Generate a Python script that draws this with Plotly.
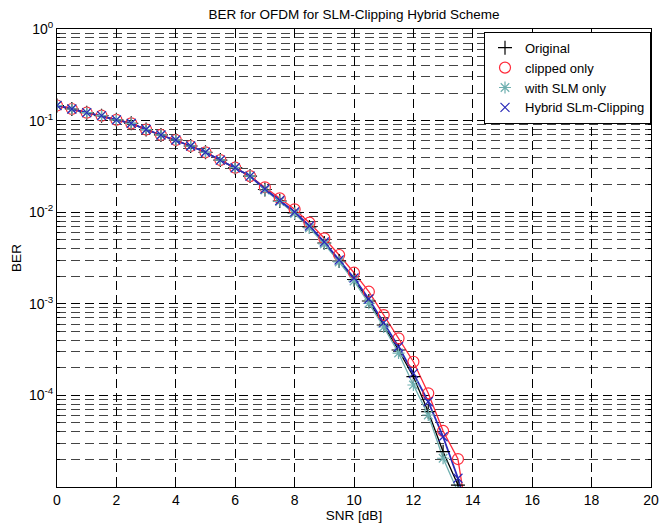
import plotly.graph_objects as go

snr = [0, 0.5, 1, 1.5, 2, 2.5, 3, 3.5, 4, 4.5, 5, 5.5, 6, 6.5,
       7, 7.5, 8, 8.5, 9, 9.5, 10, 10.5, 11, 11.5, 12, 12.5, 13, 13.5, 14]

common = [0.1462, 0.1338, 0.1220, 0.1131, 0.1020, 0.0934, 0.0799, 0.0697,
          0.0614, 0.0528, 0.0451, 0.0371, 0.0306, 0.0248]

ber_original = common + [0.01769, 0.01326, 0.00980, 0.00690, 0.00461, 0.002933,
                         0.001842, 0.001073, 0.000587, 0.000313, 0.0001600,
                         6.64e-5, 2.43e-5, 1.05e-5, 1.6e-6]
ber_clipped = common + [0.01870, 0.01418, 0.01076, 0.00768, 0.00519, 0.00341,
                        0.002185, 0.001355, 0.000754, 0.000420, 0.000233,
                        0.0001054, 4.09e-5, 2.02e-5, 1.9e-6]
ber_slm = common + [0.01748, 0.01308, 0.00968, 0.00672, 0.00450, 0.002860,
                    0.001774, 0.001013, 0.000558, 0.000290, 0.0001299,
                    6.11e-5, 2.06e-5, 8.82e-6, 1.24e-6]
ber_hybrid = common + [0.01792, 0.01342, 0.01005, 0.00707, 0.00473, 0.003008,
                       0.001913, 0.001128, 0.000622, 0.000340, 0.0001742,
                       8.53e-5, 3.54e-5, 1.245e-5, 3.39e-6]

series_names = ["Original", "clipped only", "with SLM only", "Hybrid SLm-Clipping"]
series_data = [ber_original, ber_clipped, ber_slm, ber_hybrid]
series_colors = ["#000000", "#ff2a3a", "#6fb0b0", "#2a2ab8"]
series_symbols = ["cross-thin-open", "circle-open", "asterisk-open", "x-thin-open"]
series_sizes = [10, 11, 10, 9]
line_widths = [1.3, 1.3, 1.3, 1.8]

x_ticks = list(range(0, 21, 2))
y_major = [1e-5, 1e-4, 1e-3, 1e-2, 1e-1, 1]
y_labels = ["", "10<sup>-4</sup>", "10<sup>-3</sup>",
            "10<sup>-2</sup>", "10<sup>-1</sup>", "10<sup>0</sup>"]
y_minor = [m * 10.0 ** e for e in range(-5, 0) for m in range(2, 10)]

fig = go.Figure()
# lines
for name, data, col, lw in zip(series_names, series_data, series_colors, line_widths):
    fig.add_trace(go.Scatter(x=snr, y=data, mode="lines", showlegend=False,
                             line=dict(color=col, width=lw), hoverinfo="skip"))
# markers
for name, data, col, sym, sz in zip(series_names, series_data, series_colors,
                                     series_symbols, series_sizes):
    fig.add_trace(go.Scatter(x=snr, y=data, mode="markers", name=name,
                             marker=dict(symbol=sym, size=sz, color=col,
                                         line=dict(color=col, width=1.2))))

# page body adds an ~8px offset, so the figure is sized to fit the 669x523 window
fig.update_layout(
    width=661, height=515,
    margin=dict(l=49, r=18, t=21, b=36, autoexpand=False),
    paper_bgcolor="white", plot_bgcolor="white",
    font=dict(family="Liberation Sans, Arial, sans-serif", size=13.5, color="black"),
    title=dict(text="BER for OFDM for SLM-Clipping Hybrid Scheme",
               x=0.5, xref="paper", xanchor="center", y=0.988, yanchor="middle",
               font=dict(size=13.5), automargin=False),
    legend=dict(x=1, y=0.994, xanchor="right", yanchor="top",
                bgcolor="white", bordercolor="black", borderwidth=1,
                font=dict(size=13), tracegroupgap=0, itemwidth=30),
    showlegend=True,
)

fig.update_xaxes(
    range=[0, 20], tickmode="array", tickvals=x_ticks, automargin=False,
    tickfont=dict(size=14),
    showline=True, linecolor="black", linewidth=1, mirror="ticks",
    ticks="inside", ticklen=5, tickcolor="black",
    showgrid=True, gridcolor="#000000", gridwidth=0.6, griddash="9px,5px",
    zeroline=False,
    title=dict(text="SNR [dB]", standoff=1, font=dict(size=13.5)),
)
fig.update_yaxes(
    type="log", range=[-5, 0], tickmode="array", tickvals=y_major, ticktext=y_labels,
    automargin=False, tickfont=dict(size=14),
    showline=True, linecolor="black", linewidth=1, mirror="ticks",
    ticks="inside", ticklen=5, tickcolor="black",
    showgrid=True, gridcolor="#000000", gridwidth=0.6, griddash="9px,5px",
    zeroline=False,
    minor=dict(tickmode="array", tickvals=y_minor, ticks="inside", ticklen=3,
               tickcolor="black", showgrid=True, gridcolor="#444444",
               gridwidth=0.6, griddash="9px,5px"),
    title=dict(text="BER", standoff=4, font=dict(size=13.5)),
)

fig.write_html("out.html")
